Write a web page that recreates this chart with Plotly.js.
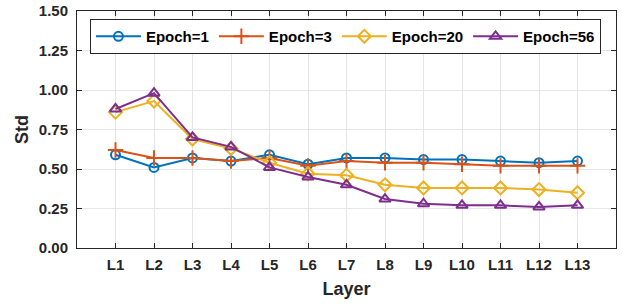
<!DOCTYPE html>
<html><head><meta charset="utf-8">
<script src="https://cdn.plot.ly/plotly-3.0.1.min.js"></script>
<style>body{margin:0;}#c{width:622px;height:306px;}</style>
</head><body><div id="c"></div>
<script>
const layers = ["L1","L2","L3","L4","L5","L6","L7","L8","L9","L10","L11","L12","L13"];
const epoch1 = [0.59,0.51,0.57,0.55,0.59,0.53,0.57,0.57,0.56,0.56,0.55,0.54,0.55];
const epoch3 = [0.62,0.57,0.57,0.55,0.57,0.52,0.55,0.54,0.54,0.53,0.52,0.52,0.52];
const epoch20 = [0.86,0.93,0.69,0.63,0.54,0.47,0.46,0.40,0.38,0.38,0.38,0.37,0.35];
const epoch56 = [0.88,0.98,0.70,0.64,0.51,0.45,0.40,0.31,0.28,0.27,0.27,0.26,0.27];
const names = ["Epoch=1","Epoch=3","Epoch=20","Epoch=56"];
const yTicks = [0,0.25,0.5,0.75,1.0,1.25,1.5];

const xs = layers.map((_, i) => i + 1);
const series = [epoch1, epoch3, epoch20, epoch56];
const colors = ["#0072BD","#D95319","#EDB120","#7E2F8E"];
const symbols = ["circle-open","cross-thin-open","diamond-open","triangle-up-open"];
const sizes = [9,11,10,10];
const traces = series.map((s, k) => ({
  x: xs, y: s, name: names[k], type: "scatter", mode: "lines+markers",
  line: {color: colors[k], width: 2},
  marker: {symbol: symbols[k], size: sizes[k], color: colors[k], line: {color: colors[k], width: 2}}
}));
const font = {family: "Liberation Sans, Arial, sans-serif", color: "#262626"};
const layout = {
  width: 622, height: 306,
  margin: {l: 77, r: 6, t: 11, b: 58},
  paper_bgcolor: "#fff", plot_bgcolor: "#fff",
  font: font,
  showlegend: true,
  legend: {orientation: "h", x: 0.024, y: 0.966, xanchor: "left", yanchor: "top",
    bordercolor: "#262626", borderwidth: 1, bgcolor: "#fff",
    font: {family: font.family, size: 15, color: "#000", weight: "bold"},
    itemwidth: 45, tracegroupgap: 0},
  xaxis: {range: [0, 14], tickvals: xs, ticktext: layers,
    showgrid: true, gridcolor: "#e6e6e6", zeroline: false,
    showline: true, linecolor: "#262626", linewidth: 1, mirror: "ticks",
    ticks: "inside", ticklen: 5, tickcolor: "#262626",
    ticklabelstandoff: 3,
    tickfont: {size: 15, weight: "bold", color: "#262626"},
    title: {text: "Layer", font: {size: 18, weight: "bold", color: "#262626"}, standoff: 10}},
  yaxis: {range: [0, 1.5], tickvals: yTicks, tickformat: ".2f",
    showgrid: true, gridcolor: "#e6e6e6", zeroline: false,
    showline: true, linecolor: "#262626", linewidth: 1, mirror: "ticks",
    ticks: "inside", ticklen: 5, tickcolor: "#262626",
    ticklabelstandoff: 5,
    tickfont: {size: 15, weight: "bold", color: "#262626"},
    title: {text: "Std", font: {size: 18, weight: "bold", color: "#262626"}, standoff: 5}}
};
Plotly.newPlot("c", traces, layout, {displayModeBar: false, staticPlot: true});
</script></body></html>
